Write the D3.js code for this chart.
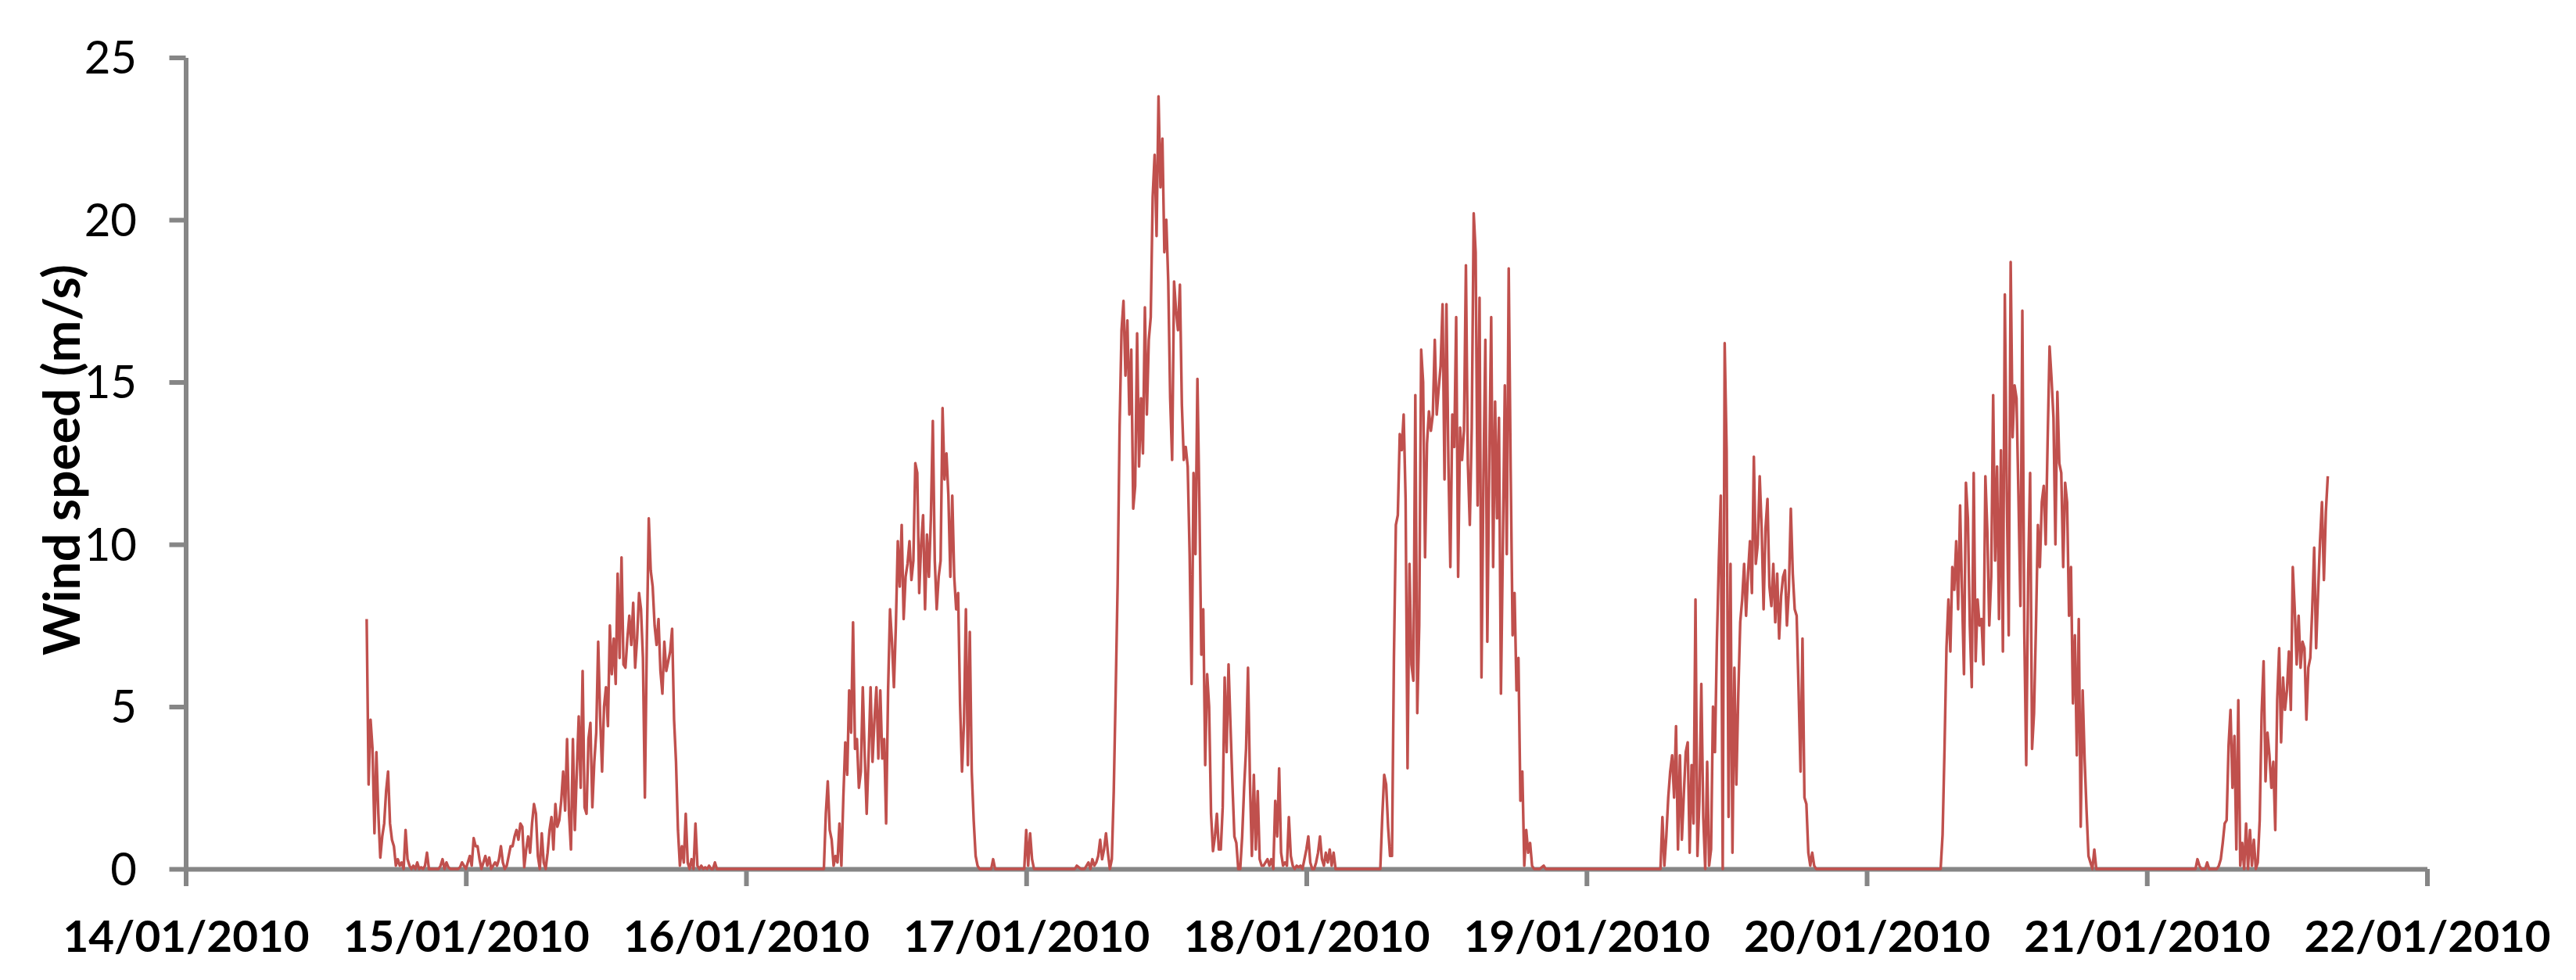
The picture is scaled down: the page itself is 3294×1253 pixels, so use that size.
<!DOCTYPE html>
<html>
<head>
<meta charset="utf-8">
<script src="https://cdn.jsdelivr.net/npm/d3@7"></script>
<style>
  html, body { margin: 0; padding: 0; background: #fff; }
  svg { display: block; }
</style>
</head>
<body>
<div id="chart"></div>
<script>
// axis ticks
const yTicks = [0, 5, 10, 15, 20, 25];
const dayTicks = ["2010-01-14", "2010-01-15", "2010-01-16", "2010-01-17", "2010-01-18",
                  "2010-01-19", "2010-01-20", "2010-01-21", "2010-01-22"];

// wind speed (m/s), one reading every 10 minutes, grouped in spells
// (between two spells the speed stays at 0)
const stepMinutes = 10;
const spellStarts = ["2010-01-14T15:30", "2010-01-16T06:30", "2010-01-16T23:40", "2010-01-17T04:00",
                     "2010-01-18T06:20", "2010-01-19T06:20", "2010-01-20T06:20", "2010-01-21T04:10"];

const spell14 = [
  7.7, 2.6, 4.6, 3.7, 1.1, 3.6, 1.7, 0.35, 1.0, 1.4, 2.4, 3.0, 1.4, 0.9, 0.7, 0.1, 0.3, 0.1, 0.2, 0.0,
  1.2, 0.3, 0.1,
  0, 0.1, 0, 0.2, 0, 0.05, 0, 0.1, 0.5, 0, 0, 0, 0, 0, 0, 0.1, 0.3, 0, 0.2, 0.05, 0, 0, 0, 0, 0,
  0.05, 0.2, 0.1, 0,
  0.2, 0.4, 0.1, 0.95, 0.7, 0.7,
  0.3, 0, 0.2, 0.4, 0.1, 0.35,
  0, 0.1, 0.2, 0.1, 0.3, 0.7,
  0.2, 0, 0.1, 0.4, 0.7, 0.7,
  1.0, 1.2, 0.9, 1.4, 1.3, 0.05,
  0.6, 1.0, 0.5, 1.4, 2.0, 1.7,
  0.4, 0, 1.1, 0.2, 0, 0.5,
  1.2, 1.6, 0.6, 2.0, 1.3, 1.5,
  2.1, 3.0, 1.8, 4.0, 1.7, 0.6,
  4.0, 1.2, 3.0, 4.7, 2.5, 6.1,
  1.9, 1.7, 4.0, 4.5, 1.9, 3.3,
  4.2, 7.0, 4.7, 3.0, 5.0, 5.6,
  4.4, 7.5, 6.0, 7.1, 5.7, 9.1,
  6.5, 9.6, 6.3, 6.2, 7.1, 7.8,
  6.9, 8.2, 6.2, 7.1, 8.5, 8.0,
  6.5, 2.2, 7.0, 10.8, 9.2, 8.7,
  7.5, 6.9, 7.7, 6.1, 5.4, 7.0,
  6.1, 6.4, 6.7, 7.4, 4.6, 3.3,
  1.2, 0.1, 0.7, 0.2, 1.7, 0.2,
  0, 0.3, 0, 1.4, 0.1, 0,
  0.1, 0, 0.05, 0, 0.1, 0,
  0, 0.2, 0];
const spell16 = [
  0, 0, 1.7, 2.7, 1.2, 0.9,
  0.1, 0.4, 0.2, 1.4, 0.1, 2.2,
  3.9, 2.9, 5.5, 4.2, 7.6, 3.7,
  4.0, 2.5, 3.0, 5.6, 3.5, 1.7,
  3.5, 5.6, 3.3, 4.6, 5.6, 3.4,
  5.5, 3.4, 4.0, 1.4, 5.5, 8.0,
  7.0, 5.6, 7.5, 10.1, 8.7, 10.6,
  7.7, 9.0, 9.4, 10.1, 8.9, 9.5,
  12.5, 12.2, 8.5, 10.0, 10.9, 8.0,
  10.3, 9.0, 10.8, 13.8, 9.5, 8.0,
  9.0, 9.5, 14.2, 12.0, 12.8, 11.5,
  9.0, 11.5, 9.0, 8.0, 8.5, 5.1,
  3.0, 4.5, 8.0, 3.2, 7.3, 3.0,
  1.5, 0.4, 0.1, 0, 0, 0,
  0, 0, 0, 0, 0.3, 0];
const spell16night = [0, 0, 1.2, 0.1, 1.1, 0.3, 0, 0];
const spell17 = [
  0, 0, 0.1, 0.05, 0, 0,
  0, 0.1, 0.2, 0, 0.3, 0.1,
  0.2, 0.4, 0.9, 0.3, 0.6, 1.1,
  0.5, 0, 0.3, 2.4, 5.5, 8.8,
  13.6, 16.6, 17.5, 15.2, 16.9, 14.0,
  16.0, 11.1, 11.8, 16.5, 12.4, 14.5,
  12.8, 17.3, 14.0, 16.3, 17.0, 20.7,
  22.0, 19.5, 23.8, 21.0, 22.5, 19.0,
  20.0, 18.1, 14.5, 12.6, 18.1, 17.2,
  16.6, 18.0, 14.3, 12.6, 13.0, 12.4,
  9.7, 5.7, 12.2, 9.7, 15.1, 11.3,
  6.6, 8.0, 3.2, 6.0, 5.0, 1.7,
  0.55, 1.0, 1.7, 0.6, 0.6, 1.9,
  5.9, 3.6, 6.3, 4.4, 2.6, 1.0,
  0.8, 0, 0, 1.0, 2.5, 3.7,
  6.2, 2.7, 0.4, 2.9, 0.6, 2.4,
  0.3, 0.1, 0.1, 0.2, 0.3, 0.1,
  0.3, 0.0, 2.1, 1.0, 3.1, 0.5,
  0.1, 0.2, 0.1, 1.6, 0.4, 0.1,
  0, 0.1, 0.05, 0.1, 0, 0.3,
  0.6, 1.0, 0.2, 0, 0, 0.2,
  0.5, 1.0, 0.3, 0.1, 0.5, 0.2,
  0.6, 0.1, 0.5, 0, 0];
const spell18 = [
  0, 1.6, 2.9, 2.6, 1.3, 0.4,
  0.4, 6.5, 10.6, 10.9, 13.4, 12.9,
  14.0, 11.4, 3.1, 9.4, 6.3, 5.8,
  14.6, 4.8, 7.5, 16.0, 15.0, 9.6,
  13.1, 14.1, 13.5, 14.0, 16.3, 14.0,
  14.8, 15.5, 17.4, 12.0, 17.4, 12.5,
  9.3, 14.0, 13.0, 17.0, 9.0, 13.6,
  12.6, 13.5, 18.6, 12.5, 10.6, 13.6,
  20.2, 19.0, 11.2, 17.6, 5.9, 12.0,
  16.3, 7.0, 12.5, 17.0, 9.3, 14.4,
  10.8, 13.9, 5.4, 10.0, 14.9, 9.7,
  18.5, 12.3, 7.2, 8.5, 5.5, 6.5,
  2.1, 3.0, 0.1, 1.2, 0.5, 0.8,
  0.1, 0, 0, 0, 0, 0.05,
  0.1, 0];
const spell19 = [
  0, 1.6, 0.1, 1.0, 2.2, 3.0,
  3.5, 2.2, 4.4, 0.6, 3.5, 0.9,
  2.3, 3.6, 3.9, 0.5, 3.2, 1.4,
  8.3, 0.4, 2.1, 5.7, 1.6, 0,
  3.3, 0.1, 0.6, 5.0, 3.6, 7.0,
  9.5, 11.5, 0, 16.2, 12.9, 1.6,
  9.4, 0.5, 6.2, 2.6, 5.4, 7.6,
  8.3, 9.4, 7.8, 9.1, 10.1, 8.5,
  12.7, 9.4, 10.0, 12.1, 10.5, 8.0,
  10.5, 11.4, 8.7, 8.1, 9.4, 7.6,
  9.1, 7.1, 8.4, 9.0, 9.2, 7.5,
  8.6, 11.1, 9.1, 8.0, 7.8, 5.5,
  3.0, 7.1, 2.2, 2.0, 0.5, 0.1,
  0.5, 0.1, 0];
const spell20 = [
  0, 1.05, 3.7, 6.8, 8.3, 6.7,
  9.3, 8.6, 10.1, 8.0, 11.2, 8.5,
  6.0, 11.9, 10.8, 7.5, 5.6, 12.2,
  6.4, 8.3, 7.5, 7.7, 6.3, 12.1,
  10.4, 7.5, 9.0, 14.6, 9.5, 12.4,
  7.7, 12.9, 6.7, 17.7, 11.6, 7.2,
  18.7, 13.3, 14.9, 14.5, 11.5, 8.1,
  17.2, 7.3, 3.2, 9.1, 12.2, 3.7,
  4.8, 7.5, 10.6, 9.3, 11.3, 11.8,
  10.0, 13.2, 16.1, 15.1, 13.9, 10.0,
  14.7, 12.5, 12.2, 9.3, 11.9, 11.3,
  7.8, 9.3, 5.1, 7.2, 3.5, 7.7,
  1.3, 5.5, 3.4, 1.8, 0.4, 0.2,
  0, 0.6, 0, 0];
const spell21 = [
  0, 0.3, 0.1, 0, 0, 0,
  0.2, 0, 0, 0, 0, 0,
  0.1, 0.3, 0.8, 1.4, 1.5, 3.8,
  4.9, 2.5, 4.1, 0.6, 5.2, 0.1,
  0.8, 0, 1.4, 0, 1.2, 0.1,
  0.9, 0, 0.2, 1.5, 4.8, 6.4,
  2.7, 4.2, 3.5, 2.5, 3.3, 1.2,
  5.2, 6.8, 3.9, 5.9, 4.9, 5.5,
  6.7, 4.9, 9.3, 8.0, 6.3, 7.8,
  6.2, 7.0, 6.8, 4.6, 6.2, 6.5,
  8.0, 9.9, 6.8, 8.5, 10.1, 11.3,
  8.9, 11.0, 12.1];

const spells = [spell14, spell16, spell16night, spell17, spell18, spell19, spell20, spell21];

const W = 3294, H = 1253;
const parseStamp = d3.timeParse("%Y-%m-%dT%H:%M");
const parseDay = d3.timeParse("%Y-%m-%d");

const points = [];
spells.forEach((vals, k) => {
    const t0 = parseStamp(spellStarts[k]);
    vals.forEach((v, i) => points.push({ t: d3.timeMinute.offset(t0, i * stepMinutes), v: v }));
});

const days = dayTicks.map(parseDay);

const x = d3.scaleTime()
    .domain([days[0], days[days.length - 1]])
    .range([237.5, 3103.5]);
const y = d3.scaleLinear()
    .domain([0, 25])
    .range([1111, 73.5]);

const svg = d3.select("#chart").append("svg")
    .attr("width", W)
    .attr("height", H)
    .style("background", "#fff");

const axisColor = "#868686";
const fontFamily = "Lato, 'Open Sans', sans-serif";

// y axis
const gy = svg.append("g")
    .attr("transform", "translate(237.5,0)")
    .call(d3.axisLeft(y).tickValues(yTicks).tickSize(21).tickSizeOuter(0).tickPadding(41.5)
        .tickFormat(d3.format("d")));
gy.attr("color", axisColor).attr("font-family", fontFamily).attr("font-size", 58);
gy.selectAll("path, line").attr("stroke-width", 6);
gy.selectAll("text").attr("fill", "#000").attr("dy", null).attr("y", 20);

// x axis
const gx = svg.append("g")
    .attr("transform", "translate(0,1111)")
    .call(d3.axisBottom(x).tickValues(days).tickSize(22).tickSizeOuter(0)
        .tickFormat(d3.timeFormat("%d/%m/%Y")));
gx.attr("color", axisColor).attr("font-family", fontFamily)
    .attr("font-size", 56).attr("font-weight", "bold");
gx.selectAll("path, line").attr("stroke-width", 6);
gx.selectAll("text")
    .attr("fill", "#000")
    .attr("dy", null)
    .attr("y", 106)
    .attr("textLength", 315)
    .attr("lengthAdjust", "spacingAndGlyphs");

// axis title
svg.append("text")
    .attr("transform", "translate(101.7,588) rotate(-90)")
    .attr("text-anchor", "middle")
    .attr("font-family", fontFamily)
    .attr("font-weight", "bold")
    .attr("font-size", 65)
    .attr("textLength", 500)
    .attr("lengthAdjust", "spacingAndGlyphs")
    .text("Wind speed (m/s)");

// series
const line = d3.line()
    .x(d => x(d.t))
    .y(d => y(d.v));

svg.append("path")
    .datum(points)
    .attr("d", line)
    .attr("fill", "none")
    .attr("stroke", "#C0504D")
    .attr("stroke-width", 3.4)
    .attr("stroke-linejoin", "round");
</script>
</body>
</html>
